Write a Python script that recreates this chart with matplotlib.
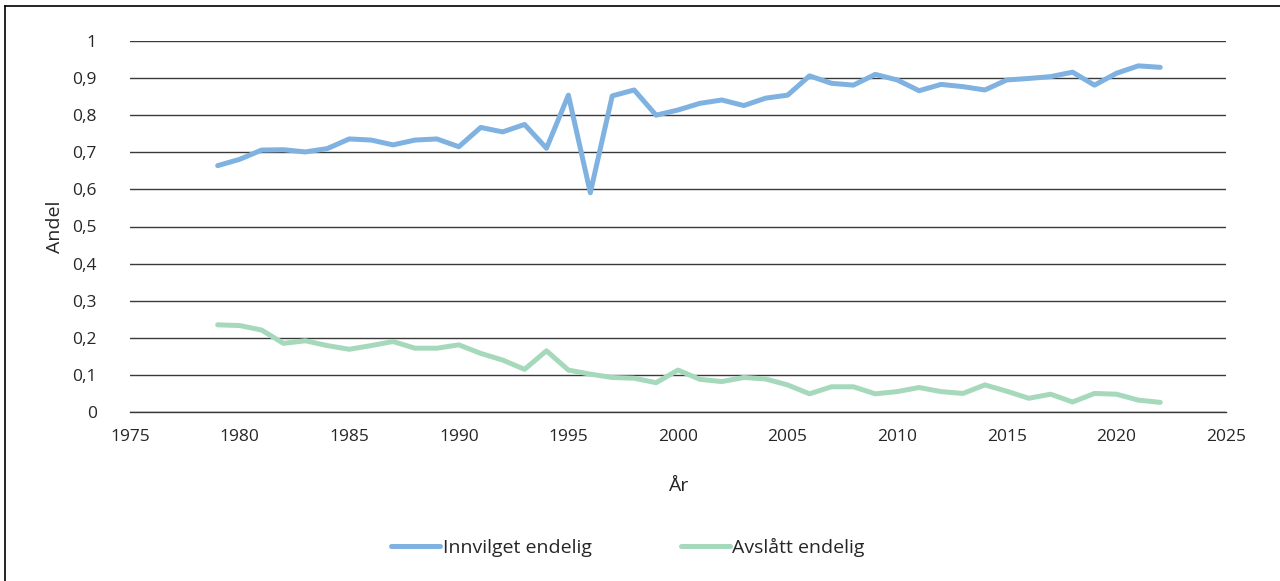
import matplotlib
matplotlib.use("Agg")
import matplotlib.pyplot as plt
from matplotlib.lines import Line2D
from matplotlib.ticker import FuncFormatter

plt.rcParams['font.family'] = ['Open Sans', 'DejaVu Sans']

years = list(range(1979, 2023))

innvilget = [0.664, 0.681, 0.706, 0.707, 0.701, 0.710, 0.736, 0.733, 0.720, 0.733,
             0.736, 0.715, 0.767, 0.755, 0.775, 0.711, 0.854, 0.591, 0.852, 0.868,
             0.800, 0.814, 0.832, 0.841, 0.826, 0.846, 0.854, 0.906, 0.886, 0.881,
             0.910, 0.895, 0.866, 0.883, 0.877, 0.868, 0.895, 0.899, 0.904, 0.916,
             0.881, 0.913, 0.933, 0.929]

avslatt = [0.235, 0.233, 0.221, 0.185, 0.192, 0.179, 0.169, 0.179, 0.190, 0.172,
           0.172, 0.181, 0.158, 0.140, 0.115, 0.165, 0.113, 0.102, 0.093, 0.091,
           0.079, 0.113, 0.088, 0.082, 0.093, 0.089, 0.073, 0.049, 0.068, 0.068,
           0.049, 0.055, 0.066, 0.055, 0.050, 0.073, 0.056, 0.037, 0.048, 0.027,
           0.050, 0.048, 0.032, 0.026]

series_labels = ["Innvilget endelig", "Avslått endelig"]
series_colors = ["#7FB2E0", "#A6D9BC"]

x_ticks = [1975, 1980, 1985, 1990, 1995, 2000, 2005, 2010, 2015, 2020, 2025]
y_ticks = [0, 0.1, 0.2, 0.3, 0.4, 0.5, 0.6, 0.7, 0.8, 0.9, 1.0]

W, H = 1280, 581
TXT = '#262626'
fig = plt.figure(figsize=(W / 100, H / 100), dpi=100)
ax = fig.add_axes([130 / W, 1 - 412 / H, (1226 - 130) / W, (412 - 41) / H])

ax.set_xlim(1975, 2025)
ax.set_ylim(0, 1)
ax.set_xticks(x_ticks)
ax.set_yticks(y_ticks)
ax.yaxis.set_major_formatter(FuncFormatter(
    lambda v, p: "0" if v == 0 else ("1" if abs(v - 1) < 1e-9 else f"{v:.1f}".replace(".", ","))))

ax.grid(axis='y', color='#3a3a3a', linewidth=1.0)
ax.set_axisbelow(True)
for s in ['left', 'right', 'top']:
    ax.spines[s].set_visible(False)
ax.spines['bottom'].set_color('#3a3a3a')
ax.spines['bottom'].set_linewidth(1.0)
ax.tick_params(axis='both', length=0, labelsize=12.5, colors=TXT)
ax.tick_params(axis='y', pad=24)
ax.tick_params(axis='x', pad=12)

for vals, lab, col in zip([innvilget, avslatt], series_labels, series_colors):
    ax.plot(years, vals, color=col, lw=3.6, solid_capstyle='round',
            solid_joinstyle='round', label=lab)

ax.set_xlabel("År", fontsize=14, color=TXT, labelpad=23)
ax.set_ylabel("Andel", fontsize=14, color=TXT, labelpad=6)

handles = [Line2D([0], [0], color=c, lw=3.6, solid_capstyle='round') for c in series_colors]
fig.legend(handles, series_labels, loc='center', bbox_to_anchor=(628 / W, 1 - 547 / H),
           ncol=2, frameon=False, fontsize=14, handlelength=2.5, handletextpad=0.15,
           columnspacing=4.6, labelcolor=TXT)

# frame lines along the top and left edges
fig.add_artist(Line2D([5 / W, 1], [1 - 6 / H, 1 - 6 / H], color='black', lw=1.2,
                      transform=fig.transFigure))
fig.add_artist(Line2D([5 / W, 5 / W], [0, 1 - 6 / H], color='black', lw=1.2,
                      transform=fig.transFigure))

fig.savefig("out.png", dpi=100, facecolor='white')
